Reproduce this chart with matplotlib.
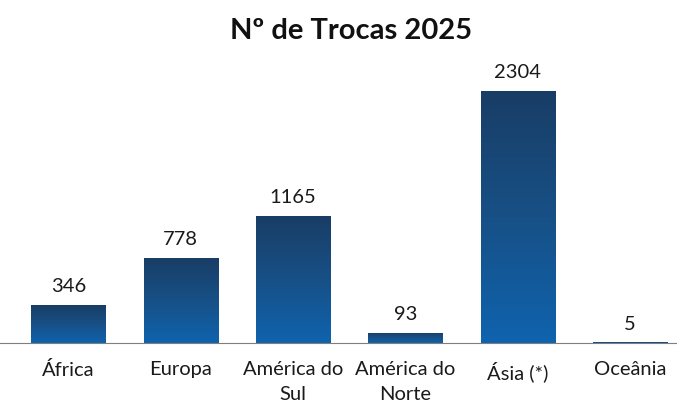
import matplotlib.pyplot as plt
import numpy as np
from matplotlib.colors import LinearSegmentedColormap

regions = ['África', 'Europa', 'América do\nSul', 'América do\nNorte', 'Ásia (*)', 'Oceânia']
trocas = [346, 778, 1165, 93, 2304, 5]

plt.rcParams['font.family'] = ['Lato', 'DejaVu Sans']

fig = plt.figure(figsize=(6.77, 4.04), dpi=100)
ax = fig.add_axes([0, 61 / 404, 1, (343 - 60) / 404])

x = np.arange(len(regions))
bar_width = 0.66
bars = ax.bar(x, trocas, width=bar_width, color='none', edgecolor='none')

# vertical gradient inside each bar: dark navy on top, brighter blue at the bottom
cmap = LinearSegmentedColormap.from_list('grad', ['#0f63ae', '#175086', '#193d65'])
grad = np.linspace(0, 1, 256).reshape(-1, 1)
for bar in bars:
    x0, w, h = bar.get_x(), bar.get_width(), bar.get_height()
    im = ax.imshow(grad, cmap=cmap, origin='lower', aspect='auto',
                   extent=[x0, x0 + w, 0, h], zorder=2)
    im.set_clip_path(bar)

for bar, val in zip(bars, trocas):
    ax.text(bar.get_x() + bar.get_width() / 2, val + 90, f"{val}",
            ha='center', va='bottom', fontsize=14.5, color='#1a1a1a')

ax.set_xlim(-0.61, 5.42)
ax.set_ylim(0, 2587)
ax.set_xticks(x)
ax.set_xticklabels(regions, fontsize=14.5, color='#1a1a1a', linespacing=1.6)
ax.tick_params(axis='x', length=0, pad=13)
ax.set_yticks([])
for s in ['top', 'right', 'left']:
    ax.spines[s].set_visible(False)
ax.spines['bottom'].set_color('#7f7f7f')
ax.spines['bottom'].set_zorder(3)

fig.text(0.518, 1 - 31 / 404, 'Nº de Trocas 2025', ha='center', va='center',
         fontsize=21, fontweight='bold', color='#111111')

fig.savefig('out.png', dpi=100)
